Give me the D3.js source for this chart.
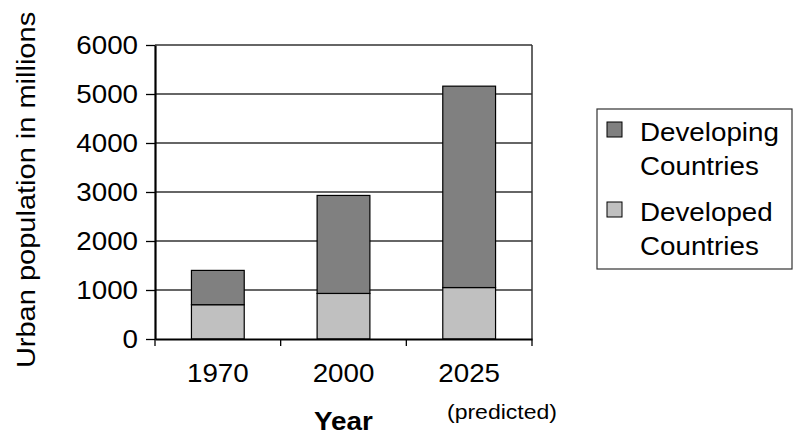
<!DOCTYPE html>
<html>
<head>
<meta charset="utf-8">
<script src="https://cdn.jsdelivr.net/npm/d3@7"></script>
<style>
  body { margin: 0; background: #fff; }
  svg { display: block; font-family: "Liberation Sans", Arial, sans-serif; }
</style>
</head>
<body>
<svg id="chart" width="793" height="437"></svg>
<script>
const years = ["1970", "2000", "2025"];
const developed = [700, 930, 1050];
const developing = [700, 2000, 4110];
const yTicks = [0, 1000, 2000, 3000, 4000, 5000, 6000];
const legendLines = [["Developing", "Countries"], ["Developed", "Countries"]];

const svg = d3.select("#chart");
const margin = { left: 155, right: 532, top: 45, bottom: 339 };

const x = d3.scaleBand().domain(years).range([margin.left, margin.right]);
const y = d3.scaleLinear().domain([0, 6000]).range([margin.bottom, margin.top]);

const rows = years.map((yr, i) => ({ year: yr, developed: developed[i], developing: developing[i] }));
const layers = d3.stack().keys(["developed", "developing"])(rows);
const fills = { developed: "#c0c0c0", developing: "#808080" };

// the original font is a bit wider than Liberation Sans, so stretch text sideways
function stretch(sel, k) {
  sel.each(function () {
    const w = this.getComputedTextLength();
    d3.select(this).attr("textLength", w * k).attr("lengthAdjust", "spacingAndGlyphs");
  });
}

// gridlines
svg.append("g")
  .selectAll("line")
  .data(yTicks.filter((d) => d > 0))
  .enter()
  .append("line")
  .attr("x1", margin.left)
  .attr("x2", margin.right)
  .attr("y1", (d) => y(d))
  .attr("y2", (d) => y(d))
  .attr("stroke", "#333")
  .attr("stroke-width", 1.5);

// right border
svg.append("line")
  .attr("x1", margin.right).attr("x2", margin.right)
  .attr("y1", margin.top).attr("y2", margin.bottom)
  .attr("stroke", "#333").attr("stroke-width", 1.5);

// bars
const barW = x.bandwidth() * 0.42;
svg.append("g")
  .selectAll("g")
  .data(layers)
  .enter()
  .append("g")
  .attr("fill", (d) => fills[d.key])
  .selectAll("rect")
  .data((d) => d)
  .enter()
  .append("rect")
  .attr("x", (d) => x(d.data.year) + (x.bandwidth() - barW) / 2)
  .attr("width", barW)
  .attr("y", (d) => y(d[1]))
  .attr("height", (d) => y(d[0]) - y(d[1]))
  .attr("stroke", "#000")
  .attr("stroke-width", 1.2);

// y axis
const yAxis = svg.append("g")
  .attr("transform", `translate(${margin.left},0)`)
  .call(d3.axisLeft(y).tickValues(yTicks).tickFormat(d3.format("d")).tickSize(9).tickPadding(8).tickSizeOuter(0));
yAxis.select(".domain").attr("stroke", "#000").attr("stroke-width", 2.2);
yAxis.selectAll(".tick line").attr("stroke", "#000").attr("stroke-width", 1.3);
yAxis.selectAll("text")
  .attr("font-size", 25)
  .attr("font-family", "Liberation Sans, Arial, sans-serif")
  .attr("fill", "#000")
  .call(stretch, 1.11);

// x axis
const xAxis = svg.append("g")
  .attr("transform", `translate(0,${margin.bottom})`)
  .call(d3.axisBottom(x).tickSize(0).tickPadding(25).tickSizeOuter(0));
xAxis.select(".domain").attr("stroke", "#000").attr("stroke-width", 2.2);
xAxis.selectAll("text")
  .attr("font-size", 25)
  .attr("font-family", "Liberation Sans, Arial, sans-serif")
  .attr("fill", "#000")
  .call(stretch, 1.11);

// x tick marks at band boundaries
const bounds = years.map((d) => x(d)).concat([x(years[years.length - 1]) + x.bandwidth()]);
svg.append("g")
  .selectAll("line")
  .data(bounds)
  .enter()
  .append("line")
  .attr("x1", (d) => d).attr("x2", (d) => d)
  .attr("y1", margin.bottom).attr("y2", margin.bottom + 7)
  .attr("stroke", "#000").attr("stroke-width", 1.3);

// axis titles
svg.append("text")
  .attr("transform", "translate(35,190) rotate(-90)")
  .attr("text-anchor", "middle")
  .attr("font-size", 25)
  .text("Urban population in millions")
  .call(stretch, 1.16);

svg.append("text")
  .attr("x", x("2000") + x.bandwidth() / 2)
  .attr("y", 430)
  .attr("text-anchor", "middle")
  .attr("font-size", 26)
  .attr("font-weight", "bold")
  .text("Year")
  .call(stretch, 1.07);

svg.append("text")
  .attr("x", 502)
  .attr("y", 419)
  .attr("text-anchor", "middle")
  .attr("font-size", 20)
  .text("(predicted)")
  .call(stretch, 1.15);

// legend
const legend = svg.append("g");
legend.append("rect")
  .attr("x", 597).attr("y", 109)
  .attr("width", 195).attr("height", 160)
  .attr("fill", "none").attr("stroke", "#333").attr("stroke-width", 1.2);

const legendKeys = ["developing", "developed"];
const entry = legend.selectAll(".entry")
  .data(legendLines)
  .enter()
  .append("g")
  .attr("class", "entry")
  .attr("transform", (d, i) => `translate(607,${122 + i * 80})`);

entry.append("rect")
  .attr("width", 15).attr("height", 15)
  .attr("fill", (d, i) => fills[legendKeys[i]])
  .attr("stroke", "#000").attr("stroke-width", 1);

entry.selectAll("text")
  .data((d) => d)
  .enter()
  .append("text")
  .attr("x", 33)
  .attr("y", (d, j) => 19 + j * 34)
  .attr("font-size", 25)
  .text((d) => d)
  .call(stretch, 1.11);
</script>
</body>
</html>
